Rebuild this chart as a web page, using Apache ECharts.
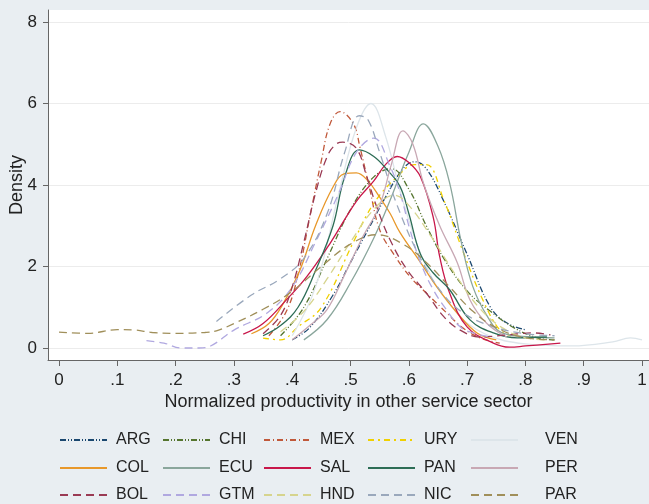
<!DOCTYPE html>
<html>
<head>
<meta charset="utf-8">
<script src="https://cdn.jsdelivr.net/npm/echarts@6/dist/echarts.min.js"></script>
<style>
  html, body { margin: 0; padding: 0; background: #e9eef2; }
  #chart { width: 649px; height: 504px; }
</style>
</head>
<body>
<div id="chart"></div>
<script>
// tick labels
var xTicks = [0, 0.1, 0.2, 0.3, 0.4, 0.5, 0.6, 0.7, 0.8, 0.9, 1];
var yTicks = [0, 2, 4, 6, 8];

// density curves, [productivity, density]
var ARG = [[0.40,0.2],[0.43,0.5],[0.47,1.3],[0.50,2.1],[0.53,2.9],[0.56,3.7],[0.59,4.4],[0.61,4.57],[0.63,4.4],[0.66,3.6],[0.70,2.3],[0.74,1.0],[0.77,0.6],[0.80,0.45]];
var CHI = [[0.38,0.3],[0.42,1.0],[0.46,2.2],[0.50,3.4],[0.54,4.2],[0.57,4.4],[0.60,3.9],[0.63,3.0],[0.66,2.2],[0.70,1.4],[0.74,0.9],[0.78,0.5],[0.82,0.25],[0.85,0.2]];
var MEX = [[0.36,0.3],[0.39,0.9],[0.41,1.8],[0.43,3.2],[0.45,4.6],[0.465,5.5],[0.482,5.8],[0.505,5.5],[0.516,4.94],[0.533,3.9],[0.55,2.9],[0.573,2.33],[0.602,1.75],[0.63,1.35],[0.665,0.86],[0.693,0.49],[0.722,0.25],[0.756,0.12]];
var URY = [[0.35,0.24],[0.38,0.2],[0.41,0.52],[0.45,1.0],[0.505,2.6],[0.54,3.55],[0.58,4.2],[0.61,4.5],[0.63,4.5],[0.66,3.63],[0.694,2.33],[0.727,1.18],[0.756,0.44],[0.775,0.3]];
var VEN = [[0.40,0.3],[0.44,1.5],[0.48,3.8],[0.51,5.4],[0.535,6.0],[0.56,5.2],[0.59,3.6],[0.63,2.0],[0.68,0.9],[0.73,0.35],[0.80,0.1],[0.88,0.05],[0.95,0.15],[0.98,0.25],[1.0,0.2]];
var COL = [[0.33,0.35],[0.36,0.6],[0.385,1.1],[0.413,1.9],[0.44,3.0],[0.47,3.95],[0.49,4.28],[0.51,4.3],[0.53,4.1],[0.55,3.7],[0.568,3.3],[0.585,2.83],[0.62,2.1],[0.648,1.5],[0.683,0.86],[0.717,0.37],[0.75,0.2]];
var ECU = [[0.42,0.2],[0.46,0.7],[0.50,1.6],[0.54,2.7],[0.57,3.7],[0.60,4.8],[0.625,5.5],[0.65,4.95],[0.67,4.05],[0.69,2.6],[0.71,1.5],[0.735,0.77],[0.76,0.37],[0.81,0.27],[0.85,0.25]];
var SAL = [[0.316,0.34],[0.35,0.6],[0.39,1.18],[0.425,1.75],[0.465,2.57],[0.51,3.6],[0.54,4.1],[0.56,4.5],[0.58,4.7],[0.60,4.55],[0.62,4.2],[0.642,3.2],[0.653,2.24],[0.67,1.35],[0.70,0.52],[0.745,0.12],[0.773,0.02],[0.80,0.05],[0.86,0.12]];
var PAN = [[0.35,0.3],[0.38,0.55],[0.41,1.0],[0.44,1.9],[0.47,3.0],[0.49,4.2],[0.515,4.86],[0.54,4.7],[0.563,4.37],[0.585,3.96],[0.60,3.3],[0.62,2.3],[0.642,1.84],[0.67,1.43],[0.705,0.69],[0.745,0.37],[0.786,0.25],[0.837,0.27]];
var PER = [[0.40,0.2],[0.43,0.55],[0.46,0.95],[0.49,1.8],[0.52,2.7],[0.55,3.5],[0.57,4.5],[0.59,5.33],[0.607,5.0],[0.625,4.05],[0.653,3.0],[0.683,2.1],[0.705,1.18],[0.734,0.6],[0.768,0.27]];
var BOL = [[0.35,0.35],[0.38,0.8],[0.40,1.5],[0.42,2.6],[0.44,3.8],[0.46,4.7],[0.475,5.0],[0.487,5.05],[0.51,4.9],[0.528,4.2],[0.545,3.46],[0.568,2.65],[0.597,1.92],[0.63,1.35],[0.66,0.77],[0.688,0.44],[0.722,0.27],[0.768,0.32],[0.813,0.37],[0.843,0.32]];
var GTM = [[0.15,0.18],[0.18,0.12],[0.21,0.0],[0.24,0.0],[0.26,0.05],[0.30,0.44],[0.357,0.86],[0.40,1.5],[0.44,2.6],[0.48,3.8],[0.51,4.8],[0.54,5.15],[0.568,4.45],[0.585,3.8],[0.602,2.9],[0.62,2.1],[0.642,1.43],[0.665,0.93],[0.688,0.52],[0.71,0.37],[0.74,0.27]];
var HND = [[0.38,0.4],[0.42,0.9],[0.46,1.7],[0.50,2.6],[0.54,3.4],[0.575,3.75],[0.60,3.5],[0.64,2.7],[0.68,1.8],[0.72,1.0],[0.76,0.5],[0.80,0.25],[0.84,0.2]];
var NIC = [[0.27,0.65],[0.33,1.3],[0.38,1.7],[0.42,2.2],[0.46,3.3],[0.49,4.8],[0.515,5.7],[0.53,5.6],[0.55,4.8],[0.58,3.5],[0.62,2.2],[0.66,1.3],[0.70,0.8],[0.75,0.5],[0.80,0.35],[0.85,0.3]];
var PAR = [[0.0,0.39],[0.05,0.36],[0.10,0.45],[0.13,0.44],[0.16,0.38],[0.20,0.36],[0.25,0.38],[0.27,0.42],[0.30,0.6],[0.35,0.95],[0.396,1.35],[0.45,2.0],[0.50,2.55],[0.545,2.78],[0.59,2.55],[0.63,2.1],[0.67,1.5],[0.71,0.9],[0.75,0.5],[0.80,0.25],[0.85,0.2]];

var countries = ['ARG','CHI','MEX','URY','VEN','COL','ECU','SAL','PAN','PER','BOL','GTM','HND','NIC','PAR'];
var curves = {ARG:ARG, CHI:CHI, MEX:MEX, URY:URY, VEN:VEN, COL:COL, ECU:ECU, SAL:SAL, PAN:PAN, PER:PER, BOL:BOL, GTM:GTM, HND:HND, NIC:NIC, PAR:PAR};

// look of each line
var looks = {
  ARG: {color:'#1a476f', type:[6,2,1,2,1,2]},
  CHI: {color:'#55752f', type:[6,2,1,2,1,2]},
  MEX: {color:'#c0583a', type:[6,3,1,3]},
  URY: {color:'#f0d000', type:[6,4,2,4]},
  VEN: {color:'#dde5ea', type:'solid'},
  COL: {color:'#e8982a', type:'solid'},
  ECU: {color:'#8aa69c', type:'solid'},
  SAL: {color:'#c8174a', type:'solid'},
  PAN: {color:'#2d6d56', type:'solid'},
  PER: {color:'#c8a8b4', type:'solid'},
  BOL: {color:'#9a3a54', type:[8,5]},
  GTM: {color:'#b0a8e0', type:[8,5]},
  HND: {color:'#d6d48e', type:[8,5]},
  NIC: {color:'#9aa8bc', type:[8,5]},
  PAR: {color:'#a08f5a', type:[8,5]}
};

var chart = echarts.init(document.getElementById('chart'));

var series = countries.map(function (c) {
  return {
    name: c,
    type: 'line',
    data: curves[c],
    smooth: 0.4,
    symbol: 'none',
    showSymbol: false,
    color: looks[c].color,
    itemStyle: {opacity: 0},
    lineStyle: {width: 1.3, color: looks[c].color, type: looks[c].type}
  };
});

// legend: 3 rows x 5 columns, one small legend per entry so the columns line up
var legendRows = [
  ['ARG','CHI','MEX','URY','VEN'],
  ['COL','ECU','SAL','PAN','PER'],
  ['BOL','GTM','HND','NIC','PAR']
];
var colLeft = [59, 162, 263, 367, 470];
var rowTop = [432, 460, 487];
var legends = [];
legendRows.forEach(function (row, r) {
  row.forEach(function (name, i) {
    legends.push({
      data: [name],
      left: colLeft[i],
      top: rowTop[r],
      padding: 0,
      itemWidth: 47,
      itemHeight: 14,
      itemStyle: {opacity: 0},
      textStyle: {
        fontFamily: 'Liberation Sans',
        fontSize: 16,
        color: '#222',
        padding: [0, 0, 0, i === 4 ? 22 : 4]
      }
    });
  });
});

chart.setOption({
  backgroundColor: '#e9eef2',
  animation: false,
  grid: {
    left: 48, right: 0, top: 10, bottom: 144,
    outerBoundsMode: 'none',
    containLabel: false,
    show: true, backgroundColor: '#ffffff', borderWidth: 0
  },
  legend: legends,
  xAxis: {
    type: 'value',
    min: -0.0189,
    max: 1.012,
    name: 'Normalized productivity in other service sector',
    nameLocation: 'middle',
    nameGap: 33,
    nameMoveOverlap: false,
    nameTextStyle: {fontFamily: 'Liberation Sans', fontSize: 18, color: '#222'},
    axisLine: {onZero: false, lineStyle: {color: '#666'}},
    axisTick: {show: true, length: 6, customValues: xTicks, lineStyle: {color: '#666'}},
    axisLabel: {
      customValues: xTicks,
      margin: 12,
      fontFamily: 'Liberation Sans', fontSize: 17, color: '#222',
      formatter: function (v) {
        if (v === 0) return '0';
        if (v === 1) return '1';
        return String(Math.round(v * 10) / 10).replace(/^0/, '');
      }
    },
    splitLine: {show: false}
  },
  yAxis: {
    type: 'value',
    min: -0.2945,
    max: 8.2945,
    name: 'Density',
    nameLocation: 'middle',
    nameGap: 22,
    nameMoveOverlap: false,
    nameTextStyle: {fontFamily: 'Liberation Sans', fontSize: 18, color: '#222'},
    axisLine: {show: true, onZero: false, lineStyle: {color: '#666'}},
    axisTick: {show: true, length: 5, customValues: yTicks, lineStyle: {color: '#666'}},
    axisLabel: {
      customValues: yTicks,
      margin: 11,
      fontFamily: 'Liberation Sans', fontSize: 17, color: '#222'
    },
    splitLine: {show: true, lineStyle: {color: '#ececec', width: 1}}
  },
  series: series
});
</script>
</body>
</html>
